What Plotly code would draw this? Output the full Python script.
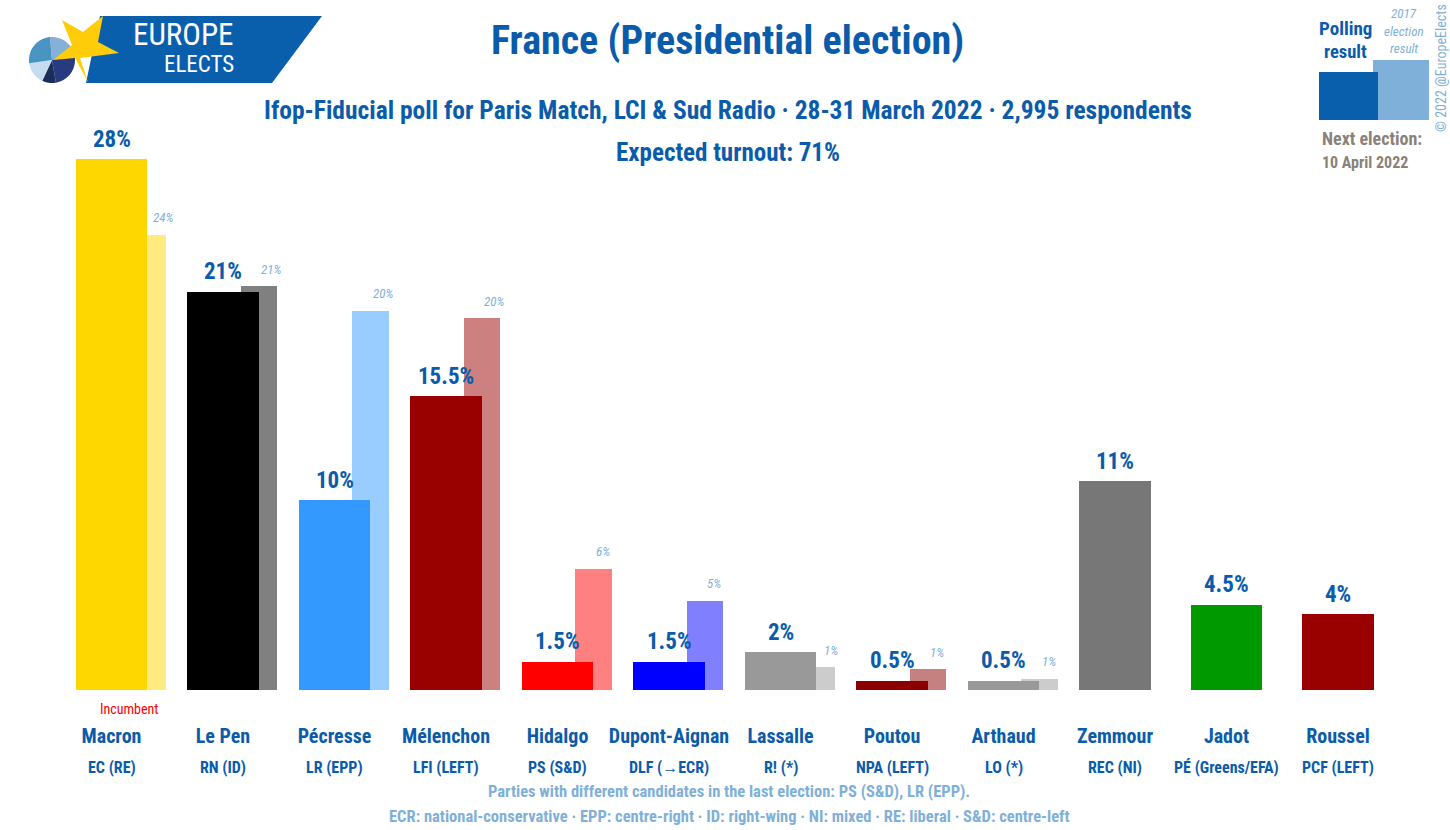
import math
import plotly.graph_objects as go

W, H = 1450, 830
BLUE = "#0A5CAB"
LIGHT = "#7FB0D9"
GREY = "#8A8278"
FONT = "Roboto Condensed, Roboto, sans-serif"

candidates = ["Macron", "Le Pen", "Pécresse", "Mélenchon", "Hidalgo", "Dupont-Aignan",
              "Lassalle", "Poutou", "Arthaud", "Zemmour", "Jadot", "Roussel"]
parties = ["EC (RE)", "RN (ID)", "LR (EPP)", "LFI (LEFT)", "PS (S&D)", "DLF (→ECR)",
           "R! (*)", "NPA (LEFT)", "LO (*)", "REC (NI)", "PÉ (Greens/EFA)", "PCF (LEFT)"]
poll = [28, 21, 10, 15.5, 1.5, 1.5, 2, 0.5, 0.5, 11, 4.5, 4]
poll_labels = ["28%", "21%", "10%", "15.5%", "1.5%", "1.5%", "2%", "0.5%", "0.5%", "11%", "4.5%", "4%"]
prev = [24.0, 21.3, 20.0, 19.6, 6.4, 4.7, 1.2, 1.1, 0.6, None, None, None]
prev_labels = ["24%", "21%", "20%", "20%", "6%", "5%", "1%", "1%", "1%", None, None, None]
colors = ["#FFD700", "#000000", "#3399FF", "#990000", "#FF0000", "#0000FF",
          "#999999", "#8B0000", "#999999", "#777777", "#009900", "#990000"]

SLOT = 111.5
X0 = 111.5
BASE = 690
PX_PER = 18.96
idx = list(range(len(candidates)))
prev_label_shift = {0: 3, 6: 5}


def px(x):
    return x / W


def py(y):
    return 1 - y / H


def lighten(c):
    r, g, b = int(c[1:3], 16), int(c[3:5], 16), int(c[5:7], 16)
    return "#%02X%02X%02X" % tuple(round((v + 255) / 2) for v in (r, g, b))


fig = go.Figure()
fig.add_bar(x=idx[:9], y=prev[:9], width=36.5 / SLOT, offset=17.5 / SLOT,
            marker=dict(color=[lighten(c) for c in colors[:9]], line_width=0), showlegend=False)
fig.add_bar(x=idx, y=poll, width=71.5 / SLOT, offset=-35.75 / SLOT,
            marker=dict(color=colors, line_width=0), showlegend=False)

ann = []


def text(x, y, s, size, color=BLUE, bold=False, anchor="center", **kw):
    ann.append(dict(x=px(x), y=py(y), xref="paper", yref="paper", text=f"<b>{s}</b>" if bold else s,
                    showarrow=False, xanchor=anchor, yanchor="middle",
                    font=dict(family=kw.pop("family", FONT), size=size, color=color), **kw))


for i in idx:
    ann.append(dict(x=i, y=poll[i], xref="x", yref="y", text=f"<b>{poll_labels[i]}</b>", showarrow=False,
                    yshift=20, font=dict(family=FONT, size=23, color=BLUE)))
    ann.append(dict(x=i, y=py(767), xref="x", yref="paper", text=f"<b>{parties[i]}</b>", showarrow=False,
                    yanchor="middle", font=dict(family=FONT, size=16, color=BLUE)))
    if prev[i] is not None:
        ann.append(dict(x=i + 36 / SLOT, y=prev[i], xref="x", yref="y", text=f"<i>{prev_labels[i]}</i>",
                        showarrow=False, xanchor="left", yshift=17, xshift=prev_label_shift.get(i, 0),
                        font=dict(family=FONT, size=13, color=LIGHT)))

text(728, 40, "France (Presidential election)", 40, bold=True)
text(728, 110, "Ifop-Fiducial poll for Paris Match, LCI &amp; Sud Radio · 28-31 March 2022 · 2,995 respondents", 25.5, bold=True)
text(728, 152, "Expected turnout: 71%", 25, bold=True)
text(129, 709, "Incumbent", 14, color="#FF0000")
text(729, 791, "Parties with different candidates in the last election: PS (S&amp;D), LR (EPP).", 16.5, color=LIGHT, bold=True)
text(729, 816, "ECR: national-conservative · EPP: centre-right · ID: right-wing · NI: mixed · RE: liberal · S&amp;D: centre-left",
     16.5, color=LIGHT, bold=True)
text(1345, 28, "Polling", 19, bold=True)
text(1345, 52, "result", 18.5, bold=True)
text(1404, 14, "<i>2017</i>", 13, color=LIGHT)
text(1404, 31, "<i>election</i>", 13, color=LIGHT)
text(1404, 48, "<i>result</i>", 13, color=LIGHT)
text(1320, 138, "Next election:", 18, color=GREY, bold=True, anchor="left")
text(1320, 162, "10 April 2022", 16, color=GREY, bold=True, anchor="left")
text(1441, 68, "© 2022 @EuropeElects", 14, color=LIGHT, textangle=-90)
text(183, 34, "EUROPE", 31, color="white")
text(199, 65, "ELECTS", 23, color="white")

shapes = []


def poly(pts, color):
    d = "M" + " L".join(f"{px(x):.5f},{py(y):.5f}" for x, y in pts) + " Z"
    shapes.append(dict(type="path", path=d, xref="paper", yref="paper",
                       fillcolor=color, line=dict(width=0), layer="above"))


def rect(x0, y0, x1, y1, color):
    poly([(x0, y0), (x1, y0), (x1, y1), (x0, y1)], color)


def sector(cx, cy, r, a0, a1, color):
    n = 24
    pts = [(cx, cy)]
    for k in range(n + 1):
        a = math.radians(a0 + (a1 - a0) * k / n)
        pts.append((cx + r * math.sin(a), cy - r * math.cos(a)))
    poly(pts, color)


# logo
poly([(100, 16), (322, 16), (272, 83), (86, 83)], "#0A5FAD")
sector(52, 60, 23, -5, 70, "#85B0D8")
sector(52, 60, 23, 70, 170, "#283A80")
sector(52, 60, 23, 170, 205, "#1C2D5A")
sector(52, 60, 23, 205, 262, "#C5DBEF")
sector(52, 60, 23, 262, 355, "#4A94C4")
poly([(62, 20), (83, 32), (103, 16), (98, 42), (119, 53), (80, 58), (88, 82), (75, 58), (53, 60), (72, 45)], "#FFCC0A")
# legend key
rect(1373, 60, 1429, 120, "#7FB0D9")
rect(1319, 72, 1378, 120, "#0A5FAD")

fig.update_layout(
    width=W, height=H, margin=dict(l=0, r=0, t=0, b=0), paper_bgcolor="white", plot_bgcolor="white",
    barmode="overlay", shapes=shapes, annotations=ann, showlegend=False, bargap=0,
    xaxis=dict(range=[-X0 / SLOT, (W - X0) / SLOT], tickvals=idx, ticktext=[f"<b>{c}</b>" for c in candidates],
               showgrid=False, zeroline=False, showline=False, ticks="outside", ticklen=28, tickcolor="rgba(0,0,0,0)",
               tickfont=dict(family=FONT, size=20, color=BLUE), tickangle=0, fixedrange=True),
    yaxis=dict(domain=[1 - BASE / H, 1], range=[0, BASE / PX_PER], visible=False, fixedrange=True),
)
fig.write_html("out.html", post_script="document.body.style.margin='0';", config=dict(displayModeBar=False))
